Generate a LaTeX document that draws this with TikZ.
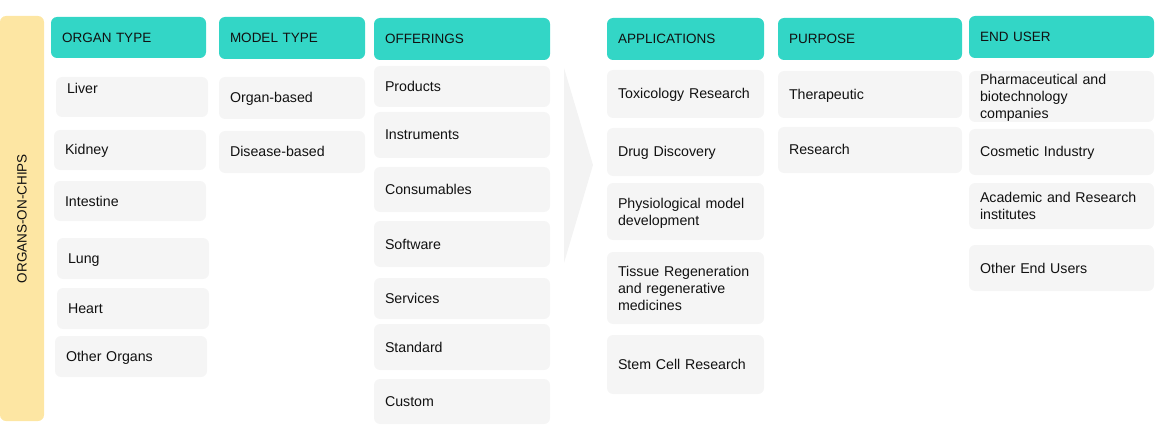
\documentclass[tikz,border=0pt]{standalone}
\usepackage{fontspec}
\setmainfont{Liberation Sans}
\usepackage{tikz}
\usetikzlibrary{positioning}
\definecolor{headteal}{HTML}{33D6C6}
\definecolor{chipyellow}{HTML}{FDE6A3}
\definecolor{cellgray}{HTML}{F5F5F5}
\definecolor{arrowgray}{HTML}{F3F3F3}
\definecolor{inkdark}{HTML}{111111}
\newcommand\cellstrut{\hyphenpenalty=10000\relax\rule[-3.5pt]{0pt}{17pt}}
\newcommand\cellendstrut{\rule[-3.5pt]{0pt}{17pt}}
\tikzset{
    header/.style={fill=headteal, rounded corners=6pt, anchor=north west, inner xsep=11pt, inner ysep=0pt,
        outer sep=0pt, align=left, text=inkdark, font=\fontsize{13.5}{15}\selectfont},
    cellbox/.style={fill=cellgray, rounded corners=6pt, anchor=north west, inner xsep=11pt, inner ysep=0pt,
        outer sep=0pt, align=left, text=inkdark, font=\fontsize{14.2}{17}\selectfont,
        execute at begin node=\cellstrut, execute at end node=\cellendstrut},
    sidebar/.style={fill=chipyellow, rounded corners=6pt, anchor=north west, inner sep=0pt, outer sep=0pt},
    % column widths
    organcol/.style={text width=130pt},
    modelcol/.style={text width=124pt},
    offercol/.style={text width=154pt},
    appcol/.style={text width=135pt},
    purposecol/.style={text width=162pt},
    usercol/.style={text width=163pt},
}
\begin{document}
\begin{tikzpicture}[x=1pt, y=-1pt]
    \useasboundingbox (0,0) rectangle (1170,425);
    % big arrow behind the columns
    \fill[arrowgray] (564,68) -- (593,165) -- (564,263) -- cycle;
    % side bar
    \node[sidebar, minimum width=44, minimum height=405] (chips) at (0,16) {};
    \node[rotate=90, text=inkdark, font=\fontsize{13.5}{15}\selectfont] (chipstext) at (chips.center) {ORGANS-ON-CHIPS};
    % organ type
    \node[header, text width=133pt, minimum height=41] (organ) at (51,17) {ORGAN TYPE};
    \node[cellbox, organcol, minimum height=40] (liver) at (56,77) {Liver\\\mbox{}};
    \node[cellbox, organcol, minimum height=40] (kidney) at (54,130) {Kidney};
    \node[cellbox, organcol, minimum height=40] (intestine) at (54,181) {Intestine};
    \node[cellbox, organcol, minimum height=41] (lung) at (57,238) {Lung};
    \node[cellbox, organcol, minimum height=41] (heart) at (57,288) {Heart};
    \node[cellbox, organcol, minimum height=41] (otherorgans) at (55,336) {Other Organs};
    % model type
    \node[header, text width=124pt, minimum height=42] (model) at (219,17) {MODEL TYPE};
    \node[cellbox, modelcol, minimum height=42] (organbased) at (219,77) {Organ-based};
    \node[cellbox, modelcol, minimum height=42] (diseasebased) at (219,131) {Disease-based};
    % offerings
    \node[header, text width=154pt, minimum height=42] (offer) at (374,18) {OFFERINGS};
    \node[cellbox, offercol, minimum height=41] (products) at (374,66) {Products};
    \node[cellbox, offercol, minimum height=46] (instruments) at (374,112) {Instruments};
    \node[cellbox, offercol, minimum height=45] (consumables) at (374,167) {Consumables};
    \node[cellbox, offercol, minimum height=46] (software) at (374,221) {Software};
    \node[cellbox, offercol, minimum height=41] (services) at (374,278) {Services};
    \node[cellbox, offercol, minimum height=46] (standard) at (374,324) {Standard};
    \node[cellbox, offercol, minimum height=45] (custom) at (374,379) {Custom};
    % applications
    \node[header, text width=135pt, minimum height=42] (app) at (607,18) {APPLICATIONS};
    \node[cellbox, appcol, minimum height=48] (toxicology) at (607,70) {Toxicology Research};
    \node[cellbox, appcol, minimum height=48] (drug) at (607,128) {Drug Discovery};
    \node[cellbox, appcol, minimum height=57] (physio) at (607,183) {Physiological model\\development};
    \node[cellbox, appcol, minimum height=72] (tissue) at (607,252) {Tissue Regeneration\\and regenerative\\medicines};
    \node[cellbox, appcol, minimum height=59] (stemcell) at (607,335) {Stem Cell Research};
    % purpose
    \node[header, text width=162pt, minimum height=42] (purpose) at (778,18) {PURPOSE};
    \node[cellbox, purposecol, minimum height=47] (therapeutic) at (778,71) {Therapeutic};
    \node[cellbox, purposecol, minimum height=46] (research) at (778,127) {Research};
    % end user
    \node[header, text width=163pt, minimum height=42] (enduser) at (969,16) {END USER};
    \node[cellbox, usercol, minimum height=50] (pharma) at (969,71) {Pharmaceutical and\\biotechnology\\companies};
    \node[cellbox, usercol, minimum height=46] (cosmetic) at (969,129) {Cosmetic Industry};
    \node[cellbox, usercol, minimum height=46] (academic) at (969,183) {Academic and Research\\institutes};
    \node[cellbox, usercol, minimum height=46] (otherusers) at (969,245) {Other End Users};
\end{tikzpicture}
\end{document}
